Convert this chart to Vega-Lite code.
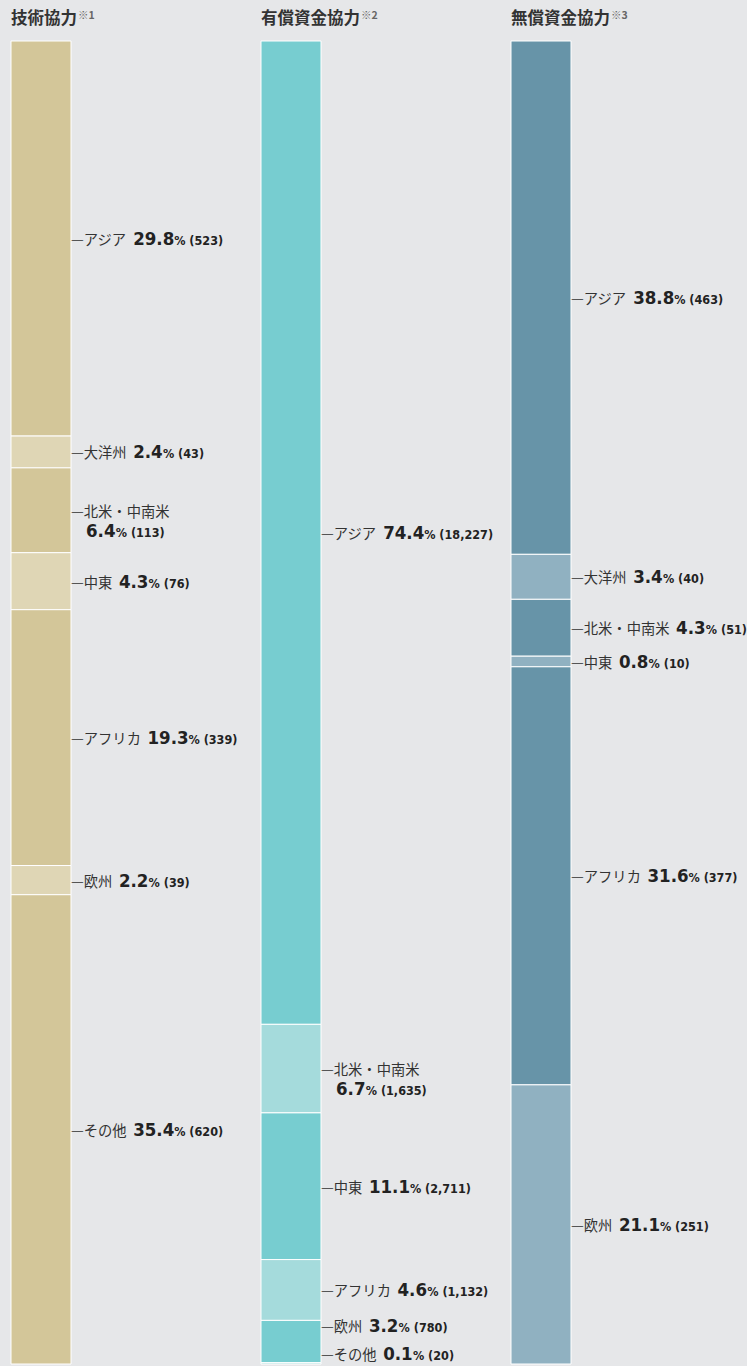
{
  "$schema": "https://vega.github.io/schema/vega-lite/v6.json",
  "background": "#e6e7e9",
  "padding": {"left": 10, "top": 0, "right": 0, "bottom": 2},
  "bounds": "flush",
  "config": {"view": {"stroke": null}},
  "data": {
    "values": [
      {"panel": "技術協力", "note": "※1", "order": 1, "region": "アジア", "pct": 29.8, "count": 523},
      {"panel": "技術協力", "note": "※1", "order": 2, "region": "大洋州", "pct": 2.4, "count": 43},
      {"panel": "技術協力", "note": "※1", "order": 3, "region": "北米・中南米", "pct": 6.4, "count": 113},
      {"panel": "技術協力", "note": "※1", "order": 4, "region": "中東", "pct": 4.3, "count": 76},
      {"panel": "技術協力", "note": "※1", "order": 5, "region": "アフリカ", "pct": 19.3, "count": 339},
      {"panel": "技術協力", "note": "※1", "order": 6, "region": "欧州", "pct": 2.2, "count": 39},
      {"panel": "技術協力", "note": "※1", "order": 7, "region": "その他", "pct": 35.4, "count": 620},
      {"panel": "有償資金協力", "note": "※2", "order": 1, "region": "アジア", "pct": 74.4, "count": 18227},
      {"panel": "有償資金協力", "note": "※2", "order": 2, "region": "北米・中南米", "pct": 6.7, "count": 1635},
      {"panel": "有償資金協力", "note": "※2", "order": 3, "region": "中東", "pct": 11.1, "count": 2711},
      {"panel": "有償資金協力", "note": "※2", "order": 4, "region": "アフリカ", "pct": 4.6, "count": 1132},
      {"panel": "有償資金協力", "note": "※2", "order": 5, "region": "欧州", "pct": 3.2, "count": 780},
      {"panel": "有償資金協力", "note": "※2", "order": 6, "region": "その他", "pct": 0.1, "count": 20},
      {"panel": "無償資金協力", "note": "※3", "order": 1, "region": "アジア", "pct": 38.8, "count": 463},
      {"panel": "無償資金協力", "note": "※3", "order": 2, "region": "大洋州", "pct": 3.4, "count": 40},
      {"panel": "無償資金協力", "note": "※3", "order": 3, "region": "北米・中南米", "pct": 4.3, "count": 51},
      {"panel": "無償資金協力", "note": "※3", "order": 4, "region": "中東", "pct": 0.8, "count": 10},
      {"panel": "無償資金協力", "note": "※3", "order": 5, "region": "アフリカ", "pct": 31.6, "count": 377},
      {"panel": "無償資金協力", "note": "※3", "order": 6, "region": "欧州", "pct": 21.1, "count": 251}
    ]
  },
  "transform": [
    {"stack": "pct", "groupby": ["panel"], "sort": [{"field": "order", "order": "ascending"}], "offset": "normalize", "as": ["y0", "y1"]},
    {"calculate": "(datum.y0+datum.y1)/2", "as": "mid"},
    {"window": [{"op": "lead", "field": "mid", "as": "nextMid"}], "groupby": ["panel"], "sort": [{"field": "order", "order": "ascending"}]},
    {"calculate": "min(datum.mid, 0.992)", "as": "clampMid"},
    {"calculate": "datum.nextMid == null ? datum.clampMid : min(datum.clampMid, min(datum.nextMid, 0.992) - 0.021)", "as": "labY"},
    {"calculate": "'—'+datum.region", "as": "label"},
    {"calculate": "format(datum.pct,'.1f')", "as": "numStr"},
    {"calculate": "format(datum.count,',')", "as": "cntFmt"},
    {"calculate": "'% ('+datum.cntFmt+')'", "as": "cntStr"},
    {"calculate": "(length(datum.region)+1)*14.3", "as": "nameW"},
    {"calculate": "(length(datum.numStr)-1)*11.27+6.17", "as": "numW"},
    {"calculate": "datum.nameW+6.5+datum.numW+25.5+length(datum.cntFmt)*7.8", "as": "totalW"},
    {"calculate": "datum.totalW>180", "as": "wrap"},
    {"calculate": "datum.wrap?75:60+datum.nameW+5", "as": "numX"},
    {"calculate": "datum.numX+datum.numW+1", "as": "cntX"},
    {"calculate": "datum.wrap?datum.labY+0.0151:datum.labY", "as": "numY"},
    {"calculate": "datum.panel+'-'+(datum.order%2)", "as": "shadeKey"},
    {"calculate": "length(datum.panel)*16.5+1", "as": "noteX"}
  ],
  "facet": {
    "column": {
      "field": "panel",
      "type": "nominal",
      "title": null,
      "sort": ["技術協力", "有償資金協力", "無償資金協力"],
      "header": {"title": null, "labels": false}
    }
  },
  "spacing": 13,
  "spec": {
    "width": 237,
    "height": 1364,
    "layer": [
      {
        "mark": {"type": "bar", "stroke": "#ffffff", "strokeWidth": 1},
        "encoding": {
          "x": {"datum": 0, "type": "quantitative", "scale": {"domain": [0, 237], "nice": false, "zero": false}, "axis": null},
          "x2": {"datum": 60},
          "y": {"field": "y0", "type": "quantitative", "scale": {"domain": [-0.031, 1], "reverse": true, "nice": false, "zero": false}, "axis": null},
          "y2": {"field": "y1"},
          "color": {
            "field": "shadeKey",
            "type": "nominal",
            "legend": null,
            "scale": {
              "domain": ["技術協力-1", "技術協力-0", "有償資金協力-1", "有償資金協力-0", "無償資金協力-1", "無償資金協力-0"],
              "range": ["#d3c699", "#dfd6b5", "#77cdd0", "#a5dbdc", "#6794a8", "#90b1c1"]
            }
          }
        }
      },
      {
        "mark": {"type": "text", "align": "left", "baseline": "alphabetic", "dy": 6.5, "fontSize": 14.3, "font": "Noto Sans CJK JP", "color": "#333333", "clip": true},
        "encoding": {
          "x": {"datum": 60, "type": "quantitative"},
          "y": {"field": "labY", "type": "quantitative"},
          "text": {"field": "label"}
        }
      },
      {
        "mark": {"type": "text", "align": "left", "baseline": "alphabetic", "dy": 6.5, "fontSize": 18.5, "fontWeight": "bold", "font": "DejaVu Sans Condensed", "color": "#222222", "clip": true},
        "encoding": {
          "x": {"field": "numX", "type": "quantitative"},
          "y": {"field": "numY", "type": "quantitative"},
          "text": {"field": "numStr"}
        }
      },
      {
        "mark": {"type": "text", "align": "left", "baseline": "alphabetic", "dy": 6.5, "fontSize": 12.5, "fontWeight": "bold", "font": "DejaVu Sans Condensed", "color": "#222222", "clip": true},
        "encoding": {
          "x": {"field": "cntX", "type": "quantitative"},
          "y": {"field": "numY", "type": "quantitative"},
          "text": {"field": "cntStr"}
        }
      },
      {
        "transform": [{"filter": "datum.order == 1"}],
        "mark": {"type": "text", "align": "left", "baseline": "middle", "fontSize": 16.5, "fontWeight": "bold", "font": "Noto Sans CJK JP", "color": "#333333"},
        "encoding": {
          "x": {"datum": 0, "type": "quantitative"},
          "y": {"datum": -0.0163, "type": "quantitative"},
          "text": {"field": "panel"}
        }
      },
      {
        "transform": [{"filter": "datum.order == 1"}],
        "mark": {"type": "text", "align": "left", "baseline": "middle", "fontSize": 10.5, "fontWeight": "bold", "font": "Noto Sans CJK JP", "color": "#666666"},
        "encoding": {
          "x": {"field": "noteX", "type": "quantitative"},
          "y": {"datum": -0.0189, "type": "quantitative"},
          "text": {"field": "note"}
        }
      }
    ]
  }
}
